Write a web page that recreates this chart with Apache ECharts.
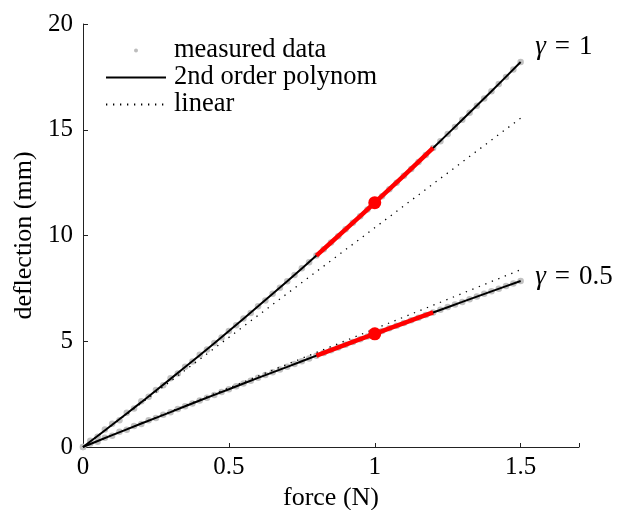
<!DOCTYPE html>
<html><head><meta charset="utf-8">
<script src="https://cdn.jsdelivr.net/npm/echarts@6/dist/echarts.min.js"></script>
<style>html,body{margin:0;padding:0;background:#fff}#c{width:617px;height:510px}</style>
</head><body><div id="c"></div>
<script>
// measured samples (force in N, deflection in mm)
var measuredForce = [0,0.025,0.05,0.075,0.1,0.125,0.15,0.175,0.2,0.225,0.25,0.275,0.3,0.325,0.35,0.375,0.4,0.425,0.45,0.475,0.5,0.525,0.55,0.575,0.6,0.625,0.65,0.675,0.7,0.725,0.75,0.775,0.8,0.825,0.85,0.875,0.9,0.925,0.95,0.975,1.0,1.025,1.05,1.075,1.1,1.125,1.15,1.175,1.2,1.225,1.25,1.275,1.3,1.325,1.35,1.375,1.4,1.425,1.45,1.475,1.5];
var measuredGamma1 = [0,0.30,0.48,0.83,1.10,1.27,1.62,1.82,2.16,2.37,2.70,2.92,3.25,3.48,3.80,4.04,4.36,4.61,4.92,5.18,5.49,5.76,6.07,6.34,6.66,6.93,7.25,7.53,7.84,8.13,8.45,8.74,9.06,9.35,9.67,9.97,10.29,10.60,10.91,11.23,11.55,11.86,12.19,12.50,12.83,13.15,13.48,13.81,14.14,14.46,14.80,15.13,15.47,15.80,16.14,16.48,16.82,17.16,17.50,17.85,18.20];
var measuredGamma05 = [0,0.17,0.25,0.44,0.53,0.72,0.81,0.99,1.09,1.26,1.37,1.53,1.64,1.80,1.93,2.06,2.20,2.33,2.46,2.60,2.73,2.87,3.00,3.13,3.27,3.40,3.53,3.66,3.79,3.93,4.06,4.19,4.32,4.45,4.58,4.71,4.84,4.97,5.09,5.22,5.35,5.48,5.61,5.73,5.86,5.99,6.11,6.24,6.36,6.49,6.62,6.74,6.86,6.99,7.11,7.24,7.36,7.48,7.61,7.73,7.85];
// 2nd order polynomial fits
var fitForce = [0,0.1,0.2,0.3,0.4,0.5,0.6,0.7,0.8,0.9,1.0,1.1,1.2,1.3,1.4,1.5];
var polyGamma1 = [0,1.05,2.12,3.22,4.34,5.48,6.65,7.84,9.05,10.29,11.55,12.83,14.14,15.47,16.82,18.20];
var polyGamma05 = [0,0.56,1.11,1.65,2.20,2.73,3.27,3.79,4.32,4.84,5.35,5.86,6.36,6.86,7.36,7.85];
// linear fits
var linearForce = [0,1.5];
var linearGamma1 = [0,15.55];
var linearGamma05 = [0,8.38];
// operating range and operating point
var rangeMin = 0.8, rangeMax = 1.2;
var opForce = [1.0];
var opGamma1 = [11.55];
var opGamma05 = [5.35];
// annotations
var annotations = [{x:1.55, y:18.93, text:'{g|γ}{sp| }={sp| }1'}, {x:1.55, y:8.05, text:'{g|γ}{sp| }={sp| }0.5'}];
var xTicks = {min:0, max:1.7, interval:0.5};
var yTicks = {min:0, max:20, interval:5};

function pairs(xs, ys){ return xs.map(function(x,i){ return [x, ys[i]]; }); }
function inRange(xs, ys){ return pairs(xs, ys).filter(function(p){ return p[0] >= rangeMin - 1e-9 && p[0] <= rangeMax + 1e-9; }); }

var FONT = 'Liberation Serif';
var chart = echarts.init(document.getElementById('c'), null, {renderer:'canvas'});
var dotIcon = 'path://M0,0M60,14M28,7a2,2 0 1,0 4,0a2,2 0 1,0 -4,0z';
var noSym = {color:'rgba(0,0,0,0)', borderWidth:0, opacity:0};
chart.setOption({
  animation:false,
  backgroundColor:'#fff',
  textStyle:{fontFamily:FONT},
  grid:{left:83, right:38, top:24, bottom:63, containLabel:false, outerBoundsMode:'none'},
  legend:{
    orient:'vertical', left:105, top:37, padding:0, itemWidth:60, itemHeight:14, itemGap:0,
    textStyle:{fontFamily:FONT, fontSize:26.5, color:'#000', lineHeight:26.5, padding:[0,0,0,3]},
    data:[
      {name:'measured data', icon:dotIcon, itemStyle:{color:'#bdbdbd', opacity:1}},
      {name:'2nd order polynom', itemStyle:noSym},
      {name:'linear', itemStyle:noSym}
    ]
  },
  xAxis:{
    type:'value', min:xTicks.min, max:xTicks.max, interval:xTicks.interval,
    name:'force (N)', nameLocation:'middle', nameGap:37,
    nameTextStyle:{fontFamily:FONT, fontSize:26, color:'#000'},
    axisLine:{show:true, onZero:false, lineStyle:{color:'#222', width:1}},
    axisTick:{show:true, inside:true, length:4, lineStyle:{color:'#222'}},
    axisLabel:{fontFamily:FONT, fontSize:25, color:'#000', margin:8,
      formatter:function(v){ return v > 1.6 ? '' : String(v); }},
    splitLine:{show:false}
  },
  yAxis:{
    type:'value', min:yTicks.min, max:yTicks.max, interval:yTicks.interval,
    name:'deflection (mm)', nameLocation:'middle', nameGap:44,
    nameTextStyle:{fontFamily:FONT, fontSize:26, color:'#000'},
    axisLine:{show:true, lineStyle:{color:'#222', width:1}},
    axisTick:{show:true, inside:true, length:5, lineStyle:{color:'#222'}},
    axisLabel:{fontFamily:FONT, fontSize:25, color:'#000', margin:10},
    splitLine:{show:false}
  },
  series:[
    {name:'measured data', type:'scatter', symbol:'circle', symbolSize:6.5, z:1,
      itemStyle:{color:'#c2c2c2', opacity:1}, data:pairs(measuredForce, measuredGamma1)},
    {name:'measured data', type:'scatter', symbol:'circle', symbolSize:6.5, z:1,
      itemStyle:{color:'#c2c2c2', opacity:1}, data:pairs(measuredForce, measuredGamma05)},
    {name:'linear', type:'line', showSymbol:false, symbol:'none', z:2,
      lineStyle:{color:'#000', width:1.3, type:[1.3,5.7]}, itemStyle:{color:'#000'},
      data:pairs(linearForce, linearGamma1)},
    {name:'linear', type:'line', showSymbol:false, symbol:'none', z:2,
      lineStyle:{color:'#000', width:1.3, type:[1.3,5.7]}, itemStyle:{color:'#000'},
      data:pairs(linearForce, linearGamma05)},
    {name:'2nd order polynom', type:'line', showSymbol:false, symbol:'none', smooth:0.3, z:3,
      lineStyle:{color:'#000', width:2}, itemStyle:{color:'#000'},
      data:pairs(fitForce, polyGamma1)},
    {name:'2nd order polynom', type:'line', showSymbol:false, symbol:'none', smooth:0.3, z:3,
      lineStyle:{color:'#000', width:2}, itemStyle:{color:'#000'},
      data:pairs(fitForce, polyGamma05)},
    {name:'range1', type:'line', showSymbol:false, symbol:'none', smooth:0.3, z:4,
      lineStyle:{color:'#ff0000', width:4.5}, data:inRange(fitForce, polyGamma1)},
    {name:'range05', type:'line', showSymbol:false, symbol:'none', smooth:0.3, z:4,
      lineStyle:{color:'#ff0000', width:4.5}, data:inRange(fitForce, polyGamma05)},
    {name:'operating point', type:'scatter', symbol:'circle', symbolSize:13, z:5,
      itemStyle:{color:'#ff0000', opacity:1}, data:pairs(opForce, opGamma1).concat(pairs(opForce, opGamma05))},
    {name:'annotation', type:'scatter', symbolSize:0, z:6, silent:true,
      itemStyle:{opacity:1},
      data:annotations.map(function(a){ return {value:[a.x, a.y], label:{formatter:a.text}}; }),
      label:{show:true, position:'right', distance:0, color:'#000', fontFamily:FONT, fontSize:27, opacity:1,
        rich:{g:{fontFamily:FONT, fontSize:27, fontStyle:'italic', color:'#000'},
              sp:{width:9, fontSize:27}}}}
  ]
});
</script></body></html>
